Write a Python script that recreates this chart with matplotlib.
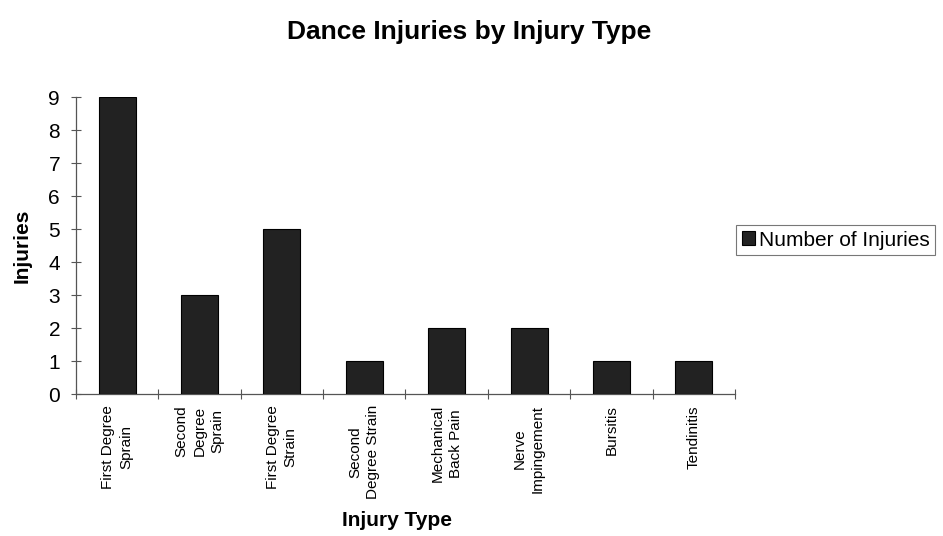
import matplotlib.pyplot as plt
import numpy as np

plt.rcParams['font.family'] = ['Liberation Sans', 'DejaVu Sans']

# injury types and counts
categories = [
    "First Degree\nSprain",
    "Second\nDegree\nSprain",
    "First Degree\nStrain",
    "Second\nDegree Strain",
    "Mechanical\nBack Pain",
    "Nerve\nImpingement",
    "Bursitis",
    "Tendinitis",
]
injuries = [9, 3, 5, 1, 2, 2, 1, 1]
y_ticks = [0, 1, 2, 3, 4, 5, 6, 7, 8, 9]

fig = plt.figure(figsize=(9.43, 5.36), dpi=100)
ax = fig.add_axes([0.0806, 0.2649, 0.6988, 0.5541])

x = np.arange(len(categories))
bars = ax.bar(x, injuries, width=0.45, color='#222222', edgecolor='#000000',
              linewidth=0.8, label='Number of Injuries', zorder=3)

ax.set_xlim(-0.5, len(categories) - 0.5)
ax.set_ylim(0, 9)
ax.set_yticks(y_ticks)
ax.tick_params(axis='y', labelsize=15, direction='inout', length=7, width=0.8,
               color='#555555', pad=8)

# ticks sit on the category boundaries, labels on the bar centres
ax.set_xticks(np.arange(-0.5, len(categories) + 0.5, 1.0))
ax.set_xticklabels([])
ax.set_xticks(x, minor=True)
ax.set_xticklabels(categories, minor=True, rotation=90, fontsize=11,
                   ha='center', va='top', multialignment='center',
                   linespacing=1.35)
ax.tick_params(axis='x', which='major', direction='inout', length=7, width=0.8,
               color='#555555')
ax.tick_params(axis='x', which='minor', length=0, pad=8)

for side in ['top', 'right']:
    ax.spines[side].set_visible(False)
for side in ['left', 'bottom']:
    ax.spines[side].set_color('#555555')
    ax.spines[side].set_linewidth(0.9)

ax.set_ylabel('Injuries', fontsize=15, fontweight='bold', labelpad=12)
ax.set_xlabel('Injury Type', fontsize=15, fontweight='bold', labelpad=8)
ax.xaxis.set_label_coords(0.487, -0.395)

fig.suptitle('Dance Injuries by Injury Type', fontsize=19, fontweight='bold',
             x=0.497, y=0.962)

leg = fig.legend(handles=[bars], labels=['Number of Injuries'],
                 loc='center left', bbox_to_anchor=(0.781, 0.552),
                 fontsize=15, frameon=True, fancybox=False,
                 handlelength=0.65, handleheight=0.65, handletextpad=0.2,
                 borderpad=0.25, borderaxespad=0)
leg.get_frame().set_edgecolor('#555555')
leg.get_frame().set_linewidth(0.8)

fig.savefig('out.png', dpi=100)
